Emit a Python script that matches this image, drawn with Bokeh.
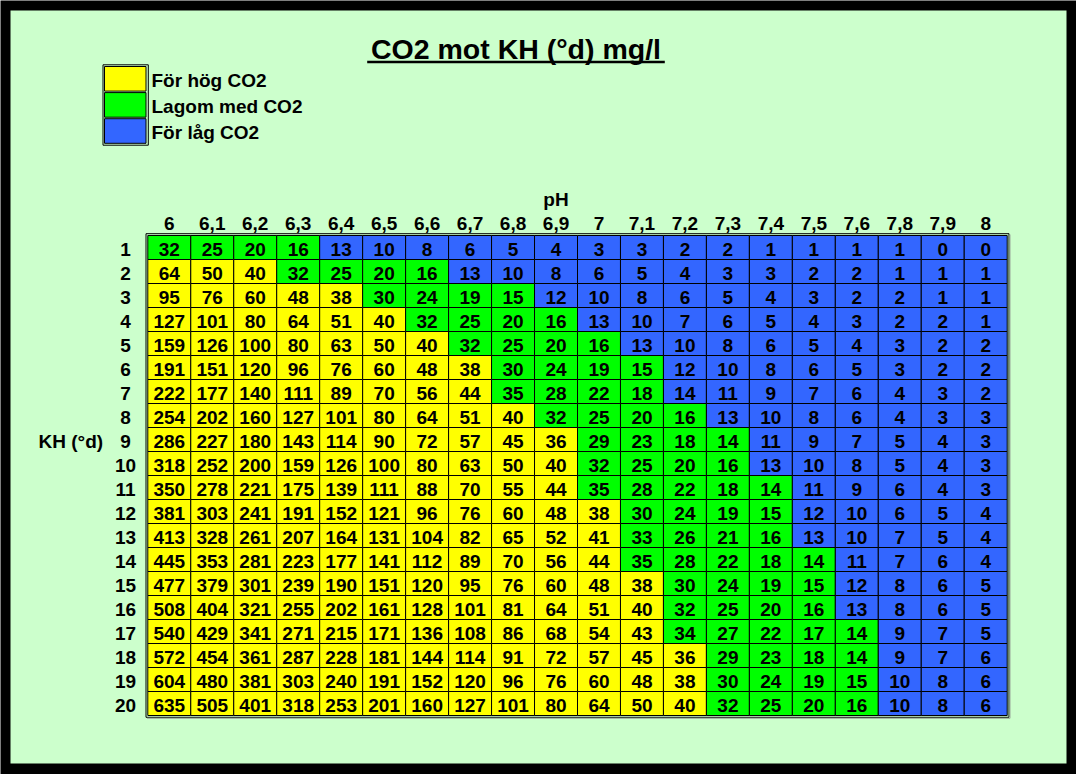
from bokeh.plotting import figure
from bokeh.models import Range1d
from bokeh.core.properties import value
from bokeh.embed import file_html
from bokeh.resources import INLINE

# ---------------- data ----------------
title_text = "CO2 mot KH (°d) mg/l"
ph_axis_title = "pH"
kh_axis_title = "KH (°d)"
ph_labels = ["6", "6,1", "6,2", "6,3", "6,4", "6,5", "6,6", "6,7", "6,8", "6,9",
             "7", "7,1", "7,2", "7,3", "7,4", "7,5", "7,6", "7,8", "7,9", "8"]
kh_labels = [str(k) for k in range(1, 21)]

co2 = [
    [32, 25, 20, 16, 13, 10, 8, 6, 5, 4, 3, 3, 2, 2, 1, 1, 1, 1, 0, 0],
    [64, 50, 40, 32, 25, 20, 16, 13, 10, 8, 6, 5, 4, 3, 3, 2, 2, 1, 1, 1],
    [95, 76, 60, 48, 38, 30, 24, 19, 15, 12, 10, 8, 6, 5, 4, 3, 2, 2, 1, 1],
    [127, 101, 80, 64, 51, 40, 32, 25, 20, 16, 13, 10, 7, 6, 5, 4, 3, 2, 2, 1],
    [159, 126, 100, 80, 63, 50, 40, 32, 25, 20, 16, 13, 10, 8, 6, 5, 4, 3, 2, 2],
    [191, 151, 120, 96, 76, 60, 48, 38, 30, 24, 19, 15, 12, 10, 8, 6, 5, 3, 2, 2],
    [222, 177, 140, 111, 89, 70, 56, 44, 35, 28, 22, 18, 14, 11, 9, 7, 6, 4, 3, 2],
    [254, 202, 160, 127, 101, 80, 64, 51, 40, 32, 25, 20, 16, 13, 10, 8, 6, 4, 3, 3],
    [286, 227, 180, 143, 114, 90, 72, 57, 45, 36, 29, 23, 18, 14, 11, 9, 7, 5, 4, 3],
    [318, 252, 200, 159, 126, 100, 80, 63, 50, 40, 32, 25, 20, 16, 13, 10, 8, 5, 4, 3],
    [350, 278, 221, 175, 139, 111, 88, 70, 55, 44, 35, 28, 22, 18, 14, 11, 9, 6, 4, 3],
    [381, 303, 241, 191, 152, 121, 96, 76, 60, 48, 38, 30, 24, 19, 15, 12, 10, 6, 5, 4],
    [413, 328, 261, 207, 164, 131, 104, 82, 65, 52, 41, 33, 26, 21, 16, 13, 10, 7, 5, 4],
    [445, 353, 281, 223, 177, 141, 112, 89, 70, 56, 44, 35, 28, 22, 18, 14, 11, 7, 6, 4],
    [477, 379, 301, 239, 190, 151, 120, 95, 76, 60, 48, 38, 30, 24, 19, 15, 12, 8, 6, 5],
    [508, 404, 321, 255, 202, 161, 128, 101, 81, 64, 51, 40, 32, 25, 20, 16, 13, 8, 6, 5],
    [540, 429, 341, 271, 215, 171, 136, 108, 86, 68, 54, 43, 34, 27, 22, 17, 14, 9, 7, 5],
    [572, 454, 361, 287, 228, 181, 144, 114, 91, 72, 57, 45, 36, 29, 23, 18, 14, 9, 7, 6],
    [604, 480, 381, 303, 240, 191, 152, 120, 96, 76, 60, 48, 38, 30, 24, 19, 15, 10, 8, 6],
    [635, 505, 401, 318, 253, 201, 160, 127, 101, 80, 64, 50, 40, 32, 25, 20, 16, 10, 8, 6],
]
# number of "too high" (yellow) cells and "ok" (green) cells in each KH row
n_high = [0, 3, 5, 6, 7, 8, 8, 9, 10, 10, 10, 11, 11, 11, 12, 12, 12, 13, 13, 13]
n_ok = [4, 4, 4, 4, 4, 4, 4, 4, 4, 4, 5, 4, 4, 5, 4, 4, 5, 4, 4, 4]

legend_labels = ["För hög CO2", "Lagom med CO2", "För låg CO2"]
legend_colors = ["#FFFF00", "#00FF00", "#3366FF"]

# ---------------- layout (page pixels) ----------------
X0, CW = 147.3, 42.97   # left edge of table, cell width
Y0, RH = 235.0, 24.0    # top edge of table, row height
W, H = 1076, 774


def dx(px):
    return (px - X0) / CW


def dy(py):
    return (py - Y0) / RH


FONT = value("Liberation Sans")
TXT = dict(text_font=FONT, text_font_style="bold", text_color="black",
           text_baseline="middle")

p = figure(width=W, height=H,
           x_range=Range1d(dx(0), dx(W)),
           y_range=Range1d(dy(H), dy(0)),
           output_backend="svg", toolbar_location=None,
           x_axis_location=None, y_axis_location=None,
           min_border=0, background_fill_color="black",
           border_fill_color="black", outline_line_color=None)
p.grid.visible = False

# light green sheet
p.quad(left=dx(10), right=dx(1066), top=dy(10), bottom=dy(763),
       fill_color="#CCFFCC", line_color=None)

# cells
xs, ys, ty, txt, fills = [], [], [], [], []
for j, row in enumerate(co2):
    for i, v in enumerate(row):
        xs.append(i + 0.5)
        ys.append(j + 0.5)
        ty.append(j + 13.6 / RH)
        txt.append(str(v))
        if i < n_high[j]:
            fills.append(legend_colors[0])
        elif i < n_high[j] + n_ok[j]:
            fills.append(legend_colors[1])
        else:
            fills.append(legend_colors[2])

p.rect(x=xs, y=ys, width=1, height=1, fill_color=fills,
       line_color="black", line_width=1)
p.text(x=xs, y=ty, text=txt, text_align="center", text_font_size="19px", **TXT)

# table outer frame
p.quad(left=dx(145.5), right=dx(1008.5), top=dy(233.2), bottom=dy(716.8),
       fill_color=None, line_color="black", line_width=1)
p.segment(x0=[dx(1009.5), dx(146.5)], y0=[dy(234), dy(717.8)],
          x1=[dx(1009.5), dx(1009.5)], y1=[dy(717.8), dy(717.8)],
          line_color="#9aa89a", line_width=1)

# column (pH) labels
p.text(x=[i + 0.5 for i in range(len(ph_labels))], y=[dy(222.7)] * len(ph_labels),
       text=ph_labels, text_align="center", text_font_size="19px", **TXT)
p.text(x=[9.5], y=[dy(198.9)], text=[ph_axis_title], text_align="center",
       text_font_size="19px", **TXT)

# row (KH) labels
p.text(x=[dx(125)] * len(kh_labels), y=[j + 13.6 / RH for j in range(len(kh_labels))],
       text=kh_labels, text_align="center", text_font_size="19px", **TXT)
p.text(x=[dx(38)], y=[dy(440.5)], text=[kh_axis_title], text_align="left",
       text_font_size="19px", **TXT)

# title with underline
p.text(x=[dx(515.5)], y=[dy(48.2)], text=[title_text], text_align="center",
       text_font_size="28.5px", **TXT)
p.segment(x0=[dx(366.7)], y0=[dy(61.6)], x1=[dx(664.3)], y1=[dy(61.6)],
          line_color="black", line_width=2.5)

# legend
p.quad(left=dx(102.5), right=dx(147.8), top=dy(64.3), bottom=dy(144.7),
       fill_color=None, line_color="black", line_width=1)
tops = [66.0 + 26.1 * k for k in range(len(legend_labels))]
p.quad(left=[dx(104)] * 3, right=[dx(145.5)] * 3,
       top=[dy(t) for t in tops], bottom=[dy(t + 24.6) for t in tops],
       fill_color=legend_colors, line_color="black", line_width=1)
p.text(x=[dx(151)] * 3, y=[dy(t + 14.1) for t in tops], text=legend_labels,
       text_align="left", text_font_size="19px", **TXT)

open("out.html", "w").write(file_html(p, INLINE))
